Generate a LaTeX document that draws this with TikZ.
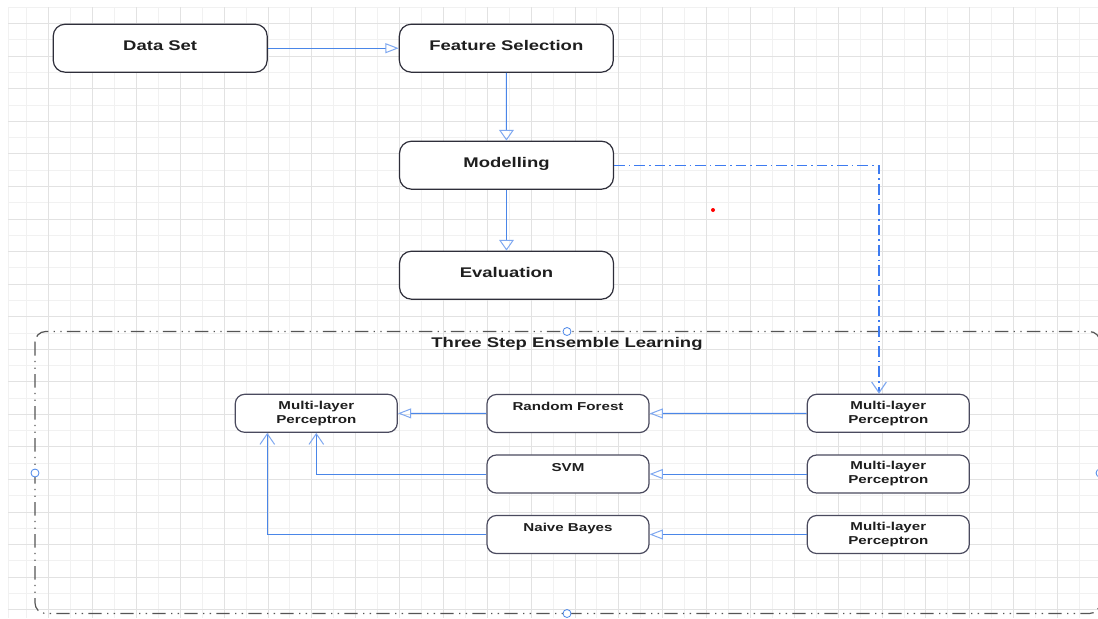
\documentclass[tikz,border=0pt]{standalone}
\usepackage{fontspec}
\setmainfont{Liberation Sans}[FakeStretch=1.32]
\usetikzlibrary{arrows.meta,calc}
\definecolor{gridmin}{HTML}{F1F1F1}
\definecolor{gridmaj}{HTML}{E2E2E2}
\definecolor{conn}{HTML}{4A86E8}
\definecolor{dconn}{HTML}{3D7BF0}
\definecolor{tipc}{HTML}{7FA8F0}
\definecolor{boxc}{HTML}{2E2E3A}
\definecolor{sboxc}{HTML}{4A4A5E}
\definecolor{txt}{HTML}{1E1E1E}
\definecolor{framec}{HTML}{555555}
\begin{document}
\begin{tikzpicture}[x=0.75pt,y=-0.75pt,
  bigbox/.style={draw=boxc, line width=0.9pt, rounded corners=9pt, fill=white,
    minimum width=160.5pt, minimum height=36pt, inner sep=0pt,
    text height=6pt, text depth=3pt,
    font=\fontsize{10.5}{12}\selectfont\bfseries, text=txt},
  smallbox/.style={draw=sboxc, line width=0.9pt, rounded corners=7pt, fill=white,
    minimum width=121.5pt, minimum height=28.5pt, inner sep=0pt, align=center,
    font=\fontsize{8.6}{10.5}\selectfont\bfseries, text=txt},
  link/.style={draw=conn, line width=0.75pt},
  htip/.style={-{Triangle[open, length=10pt, width=7.5pt, color=tipc]}},
  vtip/.style={-{Triangle[open, length=8pt, width=11pt, color=tipc]}},
  barb/.style={-{Straight Barb[length=8pt, width=11pt, color=tipc]}},
  handle/.style={draw=conn, fill=white, line width=0.6pt}
]
\useasboundingbox (0,0) rectangle (1098,618);
\fill[white] (0,0) rectangle (1098,618);
% grid
\foreach \k in {0,2,...,48}{
  \draw[gridmin, line width=0.6pt] ({26.7+21.93*\k},7) -- ({26.7+21.93*\k},618);
}
\foreach \k in {0,2,...,36}{
  \draw[gridmin, line width=0.6pt] (8,{7.3+16.28*\k}) -- (1098,{7.3+16.28*\k});
}
\draw[gridmin, line width=0.6pt] (8.3,7) -- (8.3,618);
\foreach \k in {1,3,...,47}{
  \draw[gridmaj, line width=0.6pt] ({26.7+21.93*\k},7) -- ({26.7+21.93*\k},618);
}
\foreach \k in {1,3,...,37}{
  \draw[gridmaj, line width=0.6pt] (8,{7.3+16.28*\k}) -- (1098,{7.3+16.28*\k});
}

% container
\draw[framec, line width=0.9pt, rounded corners=8pt,
  dash pattern=on 10pt off 4pt on 1pt off 4pt on 1pt off 4pt]
  (35,331.5) rectangle (1100,613.5);
\node[font=\fontsize{10.5}{12}\selectfont\bfseries, text=txt] (title) at (567,344) {Three Step Ensemble Learning};

% top nodes
\node[bigbox] (ds)  at (160.2,48.2)  {Data Set};
\node[bigbox] (fs)  at (506.3,48.2)  {Feature Selection};
\node[bigbox] (mod) at (506.5,165.2) {Modelling};
\node[bigbox] (ev)  at (506.5,275.2) {Evaluation};

% bottom nodes
\node[smallbox] (mlp0) at (316.3,413.3) {Multi-layer\\Perceptron};
\node[smallbox] (rf)   at (568,413.5)   {Random Forest\\\mbox{}};
\node[smallbox] (svm)  at (568,474)     {SVM\\\mbox{}};
\node[smallbox] (nb)   at (568,534.5)   {Naive Bayes\\\mbox{}};
\node[smallbox] (mlp1) at (888.3,413.3) {Multi-layer\\Perceptron};
\node[smallbox] (mlp2) at (888.3,474)   {Multi-layer\\Perceptron};
\node[smallbox] (mlp3) at (888.3,534.5) {Multi-layer\\Perceptron};

\coordinate (mtop) at ($(mlp1.north)+(-9.3,0)$);
\coordinate (mlpL) at ($(mlp0.south)+(-49,0)$);

% connectors
\draw[link, htip] (ds) -- (fs);
\draw[link, vtip] (fs) -- (mod);
\draw[link, vtip] (mod) -- (ev);
\draw[link, draw=dconn, line width=0.85pt, barb, dash pattern=on 8pt off 3pt on 1.2pt off 3pt] (mod.east) -| (mtop);
\draw[link, htip] (mlp1) -- (rf);
\draw[link, htip] (mlp2) -- (svm);
\draw[link, htip] (mlp3) -- (nb);
\draw[link, htip] (rf) -- (mlp0);
\draw[link, barb] (svm.west) -| (mlp0.south);
\draw[link, barb] (nb.west) -| (mlpL);

% red dot
\fill[red] (713,210) circle[radius=1.5pt];

% handles
\draw[handle] (567,331.5) circle[radius=3pt];
\draw[handle] (567,613.5) circle[radius=3pt];
\draw[handle] (35,473) circle[radius=3pt];
\draw[handle] (1100,473) circle[radius=3pt];
\end{tikzpicture}
\end{document}
